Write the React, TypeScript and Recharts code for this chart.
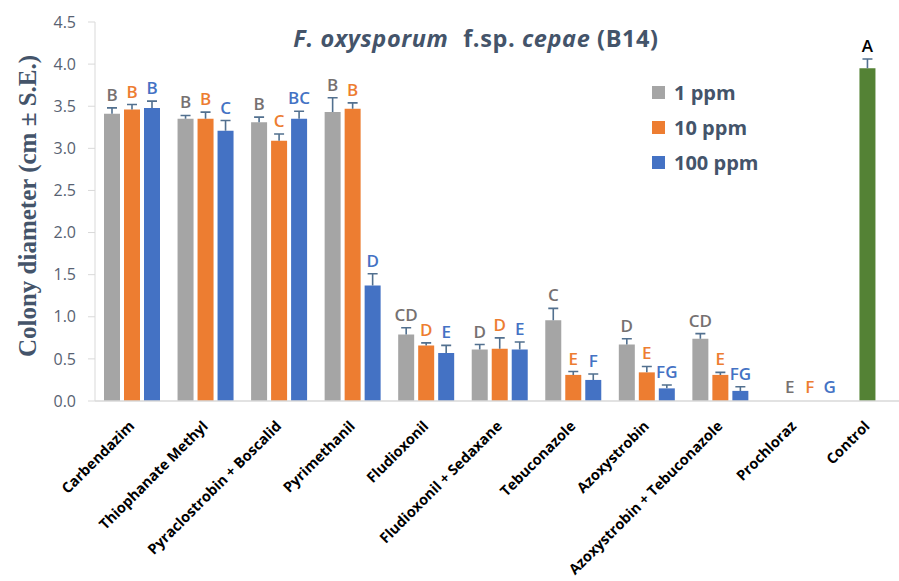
import React from "react";
import { BarChart, Bar, XAxis, YAxis, Legend, LabelList, Cell, ReferenceDot } from "recharts";

const categories = [
  "Carbendazim",
  "Thiophanate Methyl",
  "Pyraclostrobin + Boscalid",
  "Pyrimethanil",
  "Fludioxonil",
  "Fludioxonil + Sedaxane",
  "Tebuconazole",
  "Azoxystrobin",
  "Azoxystrobin + Tebuconazole",
  "Prochloraz",
  "Control",
];

// fungicide treatments (Control kept separately)
const ppm1 = [3.41, 3.35, 3.31, 3.43, 0.79, 0.61, 0.96, 0.67, 0.74, 0];
const se1 = [0.07, 0.04, 0.06, 0.17, 0.08, 0.06, 0.14, 0.07, 0.06, 0];
const letters1 = ["B", "B", "B", "B", "CD", "D", "C", "D", "CD", "E"];

const ppm10 = [3.46, 3.35, 3.09, 3.47, 0.66, 0.62, 0.31, 0.34, 0.31, 0];
const se10 = [0.06, 0.08, 0.08, 0.07, 0.03, 0.13, 0.04, 0.07, 0.03, 0];
const letters10 = ["B", "B", "C", "B", "D", "D", "E", "E", "E", "F"];

const ppm100 = [3.48, 3.21, 3.35, 1.37, 0.57, 0.61, 0.25, 0.15, 0.12, 0];
const se100 = [0.08, 0.12, 0.09, 0.14, 0.09, 0.09, 0.07, 0.04, 0.05, 0];
const letters100 = ["B", "C", "BC", "D", "E", "E", "F", "FG", "FG", "G"];

const controlMean = 3.95;
const controlSe = 0.11;
const controlLetter = "A";

const yTicks = [0, 0.5, 1, 1.5, 2, 2.5, 3, 3.5, 4, 4.5];

const GRAY = "#a5a5a5";
const ORANGE = "#ed7d31";
const BLUE = "#4472c4";
const GREEN = "#548235";
const SLATE = "#44546a";
const LETTER_GRAY = "#767171";

const legendItems = [
  { label: "1 ppm", color: GRAY },
  { label: "10 ppm", color: ORANGE },
  { label: "100 ppm", color: BLUE },
];

const ctrl = categories.length - 1;
const data = categories.map((name, i) => ({
  name,
  p1: i === ctrl ? null : ppm1[i],
  p10: i === ctrl ? controlMean : ppm10[i],
  p100: i === ctrl ? null : ppm100[i],
}));

const seMid = [...se10, controlSe];
const lettersMid = [...letters10, controlLetter];

const sans = "'Open Sans', sans-serif";

function marks(
  key: "p1" | "p10" | "p100",
  se: number[],
  letters: string[],
  colorFor: (i: number) => string
) {
  return (props: any) => {
    const vb = props.viewBox ?? props;
    const { x, y, width, height } = vb;
    const i = categories.indexOf(props.value);
    if (i < 0) return null;
    const v = (data[i] as any)[key];
    if (v == null || !(v > 0)) return null;
    const px = ((se[i] ?? 0) * height) / v;
    const cx = x + width / 2;
    const top = y - px;
    return (
      <g key={`m-${key}-${i}`}>
        {px > 0 && (
          <path
            d={`M${cx},${y}V${top}M${cx - 5},${top}H${cx + 5}`}
            stroke="#52708f"
            strokeWidth={1.6}
            fill="none"
          />
        )}
        <text
          x={cx}
          y={top - 7}
          textAnchor="middle"
          fill={colorFor(i)}
          fontSize={17}
          fontWeight={600}
          fontFamily={sans}
        >
          {letters[i]}
        </text>
      </g>
    );
  };
}

// letters for the treatment with no growth (zero-height bars)
const zeroIdx = categories.indexOf("Prochloraz");
const ZeroLetters = (props: any) => {
  const vb = props.viewBox;
  const cx = vb.x + vb.width / 2;
  const cy = vb.y + vb.height / 2;
  const items = [
    { t: letters1[zeroIdx], c: LETTER_GRAY, slot: -1 },
    { t: letters10[zeroIdx], c: ORANGE, slot: 0 },
    { t: letters100[zeroIdx], c: BLUE, slot: 1 },
  ];
  return (
    <g>
      {items.map((it) => (
        <text
          key={it.t}
          x={cx + it.slot * 20 + 16}
          y={cy - 8}
          textAnchor="middle"
          fill={it.c}
          fontSize={17}
          fontWeight={600}
          fontFamily={sans}
        >
          {it.t}
        </text>
      ))}
    </g>
  );
};

const XTick = ({ x, y, payload }: any) => (
  <g transform={`translate(${x + 3.5},${y + 18})`}>
    <text
      transform="rotate(-45)"
      textAnchor="end"
      fontSize={14.5}
      fontWeight={700}
      fontFamily={sans}
      fill="#000"
    >
      {payload.value}
    </text>
  </g>
);

const YLabel = () => (
  <text
    transform="translate(27,206) rotate(-90)"
    textAnchor="middle"
    dominantBaseline="central"
    fontFamily="'Liberation Serif', 'Times New Roman', serif"
    fontWeight={700}
    fontSize={25}
    fill={SLATE}
  >
    Colony diameter (cm ± S.E.)
  </text>
);

const renderLegend = () => (
  <div style={{ fontFamily: sans }}>
    {legendItems.map((it) => (
      <div key={it.label} style={{ display: "flex", alignItems: "center", height: 35 }}>
        <span style={{ width: 13, height: 13, background: it.color, marginRight: 9 }} />
        <span style={{ fontSize: 20, fontWeight: 700, color: SLATE }}>{it.label}</span>
      </div>
    ))}
  </div>
);

export default function App() {
  return (
    <div
      style={{
        position: "absolute",
        left: 0,
        top: 0,
        width: 899,
        height: 581,
        overflow: "hidden",
        background: "#fff",
      }}
    >
      <BarChart
        width={910}
        height={581}
        data={data}
        margin={{ top: 22, right: 6, left: 0, bottom: 0 }}
        barSize={16}
        barGap={4}
      >
        <XAxis
          dataKey="name"
          interval={0}
          height={180}
          tickLine={false}
          axisLine={{ stroke: "#d9d9d9", strokeWidth: 1.5 }}
          tick={<XTick />}
        />
        <YAxis
          width={95}
          domain={[0, 4.5]}
          ticks={yTicks}
          tickFormatter={(v: number) => v.toFixed(1)}
          axisLine={{ stroke: "#d9d9d9" }}
          tickLine={{ stroke: "#d9d9d9" }}
          tickSize={7}
          tickMargin={12}
          tick={{ fill: "#586272", fontSize: 16, fontFamily: sans }}
          label={<YLabel />}
        />
        <Legend
          layout="horizontal"
          verticalAlign="middle"
          align="center"
          content={renderLegend}
          wrapperStyle={{ left: 652, top: 75, width: 160 }}
        />
        <Bar dataKey="p1" name="1 ppm" fill={GRAY} isAnimationActive={false}>
          <LabelList dataKey="name" content={marks("p1", se1, letters1, () => LETTER_GRAY)} />
        </Bar>
        <Bar dataKey="p10" name="10 ppm" fill={ORANGE} isAnimationActive={false}>
          {data.map((d, i) => (
            <Cell key={d.name} fill={i === ctrl ? GREEN : ORANGE} />
          ))}
          <LabelList
            dataKey="name"
            content={marks("p10", seMid, lettersMid, (i) => (i === ctrl ? "#000" : ORANGE))}
          />
        </Bar>
        <Bar dataKey="p100" name="100 ppm" fill={BLUE} isAnimationActive={false}>
          <LabelList dataKey="name" content={marks("p100", se100, letters100, () => BLUE)} />
        </Bar>
        <ReferenceDot
          x={categories[zeroIdx]}
          y={0}
          r={0}
          fill="none"
          stroke="none"
          label={<ZeroLetters />}
        />
      </BarChart>
      <svg
        width={899}
        height={581}
        style={{ position: "absolute", left: 0, top: 0, pointerEvents: "none" }}
      >
        <text
          x={476}
          y={47}
          textAnchor="middle"
          fontFamily={sans}
          fontWeight={700}
          fontSize={23.5}
          letterSpacing={0.6}
          fill={SLATE}
        >
          <tspan fontStyle="italic">F. oxysporum</tspan>
          <tspan dx={8}> f.sp. </tspan>
          <tspan fontStyle="italic">cepae</tspan>
          <tspan> (B14)</tspan>
        </text>
      </svg>
    </div>
  );
}
